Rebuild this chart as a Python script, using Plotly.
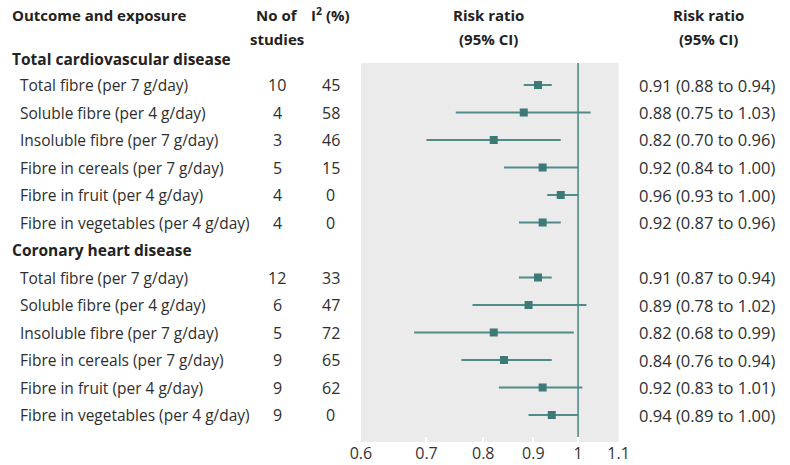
import math
import plotly.graph_objects as go

# ---- data ----
groups = ["Total cardiovascular disease", "Coronary heart disease"]
exposures = [
    "Total fibre (per 7 g/day)",
    "Soluble fibre (per 4 g/day)",
    "Insoluble fibre (per 7 g/day)",
    "Fibre in cereals (per 7 g/day)",
    "Fibre in fruit (per 4 g/day)",
    "Fibre in vegetables (per 4 g/day)",
]
cvd_n = [10, 4, 3, 5, 4, 4]
cvd_i2 = [45, 58, 46, 15, 0, 0]
cvd_rr = [0.91, 0.88, 0.82, 0.92, 0.96, 0.92]
cvd_lo = [0.88, 0.75, 0.70, 0.84, 0.93, 0.87]
cvd_hi = [0.94, 1.03, 0.96, 1.00, 1.00, 0.96]

chd_n = [12, 6, 5, 9, 9, 9]
chd_i2 = [33, 47, 72, 65, 62, 0]
chd_rr = [0.91, 0.89, 0.82, 0.84, 0.92, 0.94]
chd_lo = [0.87, 0.78, 0.68, 0.76, 0.83, 0.89]
chd_hi = [0.94, 1.02, 0.99, 0.94, 1.01, 1.00]

tick_vals = [0.6, 0.7, 0.8, 0.9, 1, 1.1]
tick_text = ["0.6", "0.7", "0.8", "0.9", "1", "1.1"]

# ---- layout helpers ----
W, H = 790, 465
FONT = "Open Sans"
TXT = "#222222"
TXT_R = "#2e2e2e"
TEAL_M = "#3d7a77"
TEAL_L = "#4f8b89"

def px(x):
    return x / W

def py(y):
    return 1 - y / H

row0_px, row_step = 57.5, 27.5
top_px, bot_px = 63, 442

fig = go.Figure()

rows = []  # (k, label, n, i2, rr, lo, hi)
k = 0
for g, (ns, i2s, rrs, los, his) in zip(groups, [(cvd_n, cvd_i2, cvd_rr, cvd_lo, cvd_hi),
                                               (chd_n, chd_i2, chd_rr, chd_lo, chd_hi)]):
    rows.append((k, g, None, None, None, None, None))
    k += 1
    for lab, n, i2, rr, lo, hi in zip(exposures, ns, i2s, rrs, los, his):
        rows.append((k, lab, n, i2, rr, lo, hi))
        k += 1

lx, ly, mx, my = [], [], [], []
for kk, lab, n, i2, rr, lo, hi in rows:
    if rr is None:
        continue
    lx += [lo, hi, None]
    ly += [kk, kk, None]
    mx.append(rr)
    my.append(kk)

y_lo = (bot_px - row0_px) / row_step
y_hi = (top_px - row0_px) / row_step

def row_paper(kk):
    return py(row0_px + row_step * kk)

fig.add_trace(go.Scatter(x=[1, 1], y=[y_hi, y_lo], mode="lines",
                         line=dict(color=TEAL_L, width=1.6), hoverinfo="skip", showlegend=False))
fig.add_trace(go.Scatter(x=lx, y=ly, mode="lines",
                         line=dict(color=TEAL_L, width=2), hoverinfo="skip", showlegend=False))
fig.add_trace(go.Scatter(x=mx, y=my, mode="markers",
                         marker=dict(symbol="square", size=8, color=TEAL_M), showlegend=False))

ann = []
def add(text, x, y, xanchor="left", bold=False, size=16, color=TXT_R):
    if bold:
        text = "<b>" + text + "</b>"
        color = TXT
    ann.append(dict(text=text, x=px(x), xref="paper", y=y, yref="paper",
                    xanchor=xanchor, yanchor="middle", showarrow=False,
                    borderpad=0,
                    font=dict(family=FONT, size=size, color=color)))

# headers
h1, h2 = py(15), py(39)
HS = 15
add("Outcome and exposure", 0, h1, bold=True, size=HS)
add("No of", 274, h1, "center", bold=True, size=HS)
add("studies", 274, h2, "center", bold=True, size=HS)
add("I<sup>2</sup> (%)", 329, h1, "center", bold=True, size=HS)
add("Risk ratio", 491, h1, "center", bold=True, size=HS)
add("(95% CI)", 491, h2, "center", bold=True, size=HS)
add("Risk ratio", 717, h1, "center", bold=True, size=HS)
add("(95% CI)", 717, h2, "center", bold=True, size=HS)

for kk, lab, n, i2, rr, lo, hi in rows:
    yy = row_paper(kk)
    if rr is None:
        add(lab, 0, py(row0_px + row_step * kk + (1.5 if kk == 0 else 0)), bold=True, size=15.5)
    else:
        add(lab, 8, yy, size=15.5)
        add(str(n), 274, yy, "center")
        add(str(i2), 329, yy, "center")
        add(f"{rr:.2f} ({lo:.2f} to {hi:.2f})", 645, yy, size=16.5)

fig.update_layout(
    width=W, height=H,
    margin=dict(l=0, r=0, t=0, b=0),
    paper_bgcolor="white",
    plot_bgcolor="#ebebeb",
    annotations=ann,
    xaxis=dict(type="log", domain=[px(360), px(625)],
               range=[math.log10(0.6), math.log10(1.1)],
               tickvals=tick_vals, ticktext=tick_text,
               ticks="inside", ticklen=5, tickcolor="white", tickwidth=1.5,
               showgrid=False, zeroline=False, showline=False,
               tickfont=dict(family=FONT, size=16, color="#333333")),
    yaxis=dict(domain=[py(bot_px), py(top_px)], range=[y_lo, y_hi],
               showgrid=False, zeroline=False, showticklabels=False, ticks=""),
)

fig.write_html("out.html", config={"displayModeBar": False},
               post_script="document.body.style.margin='0';")
